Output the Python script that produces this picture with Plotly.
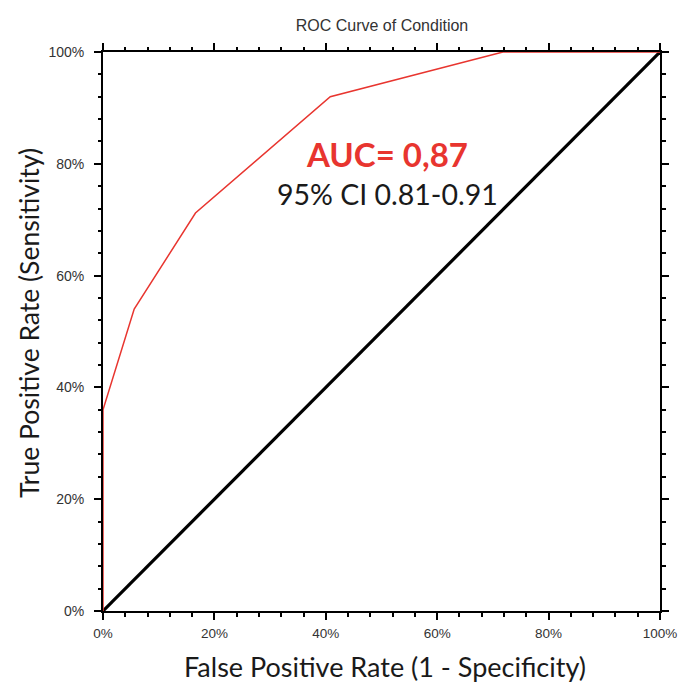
import plotly.graph_objects as go

fpr = [0.0, 0.0, 0.056, 0.166, 0.408, 0.718, 1.0]
tpr = [0.0, 0.36, 0.54, 0.712, 0.92, 1.0, 1.0]
ref_x = [0.0, 1.0]
ref_y = [0.0, 1.0]
tick_vals = [0, 0.2, 0.4, 0.6, 0.8, 1.0]
tick_text = ["0%", "20%", "40%", "60%", "80%", "100%"]

W, H = 678, 684
L, R, T, B = 103, 660, 52, 611  # plot area in page pixels
pw, ph = R - L, B - T

fig = go.Figure()
fig.add_trace(go.Scatter(x=ref_x, y=ref_y, mode="lines",
                         line=dict(color="black", width=3.2), cliponaxis=False,
                         showlegend=False, hoverinfo="skip"))
fig.add_trace(go.Scatter(x=fpr, y=tpr, mode="lines",
                         line=dict(color="#e8352f", width=1.5), cliponaxis=False,
                         showlegend=False))
fig.add_trace(go.Scatter(x=ref_x, y=ref_y, xaxis="x2", yaxis="y2", mode="lines",
                         line=dict(color="rgba(0,0,0,0)", width=0),
                         showlegend=False, hoverinfo="skip"))

base = dict(range=[0, 1], tickvals=tick_vals, showgrid=False, zeroline=False,
            showline=True, linecolor="black", linewidth=2,
            ticks="outside", ticklen=7, tickwidth=1.5, tickcolor="black",
            minor=dict(dtick=0.04, ticks="outside", ticklen=3.5, tickwidth=1.5,
                       tickcolor="black", showgrid=False),
            automargin=False, fixedrange=True)
lab_font = dict(family="Liberation Sans, Arial", size=14, color="#333333")
xlab_font = dict(family="Liberation Sans, Arial", size=13.5, color="#333333")

fig.update_layout(
    xaxis=dict(**base, ticktext=tick_text, tickfont=xlab_font, ticklabelstandoff=2,
               ticklabeloverflow="allow"),
    yaxis=dict(**base, ticktext=tick_text, tickfont=lab_font, ticklabelstandoff=7),
    xaxis2=dict(**base, overlaying="x", side="top", anchor="y2", showticklabels=False),
    yaxis2=dict(**base, overlaying="y", side="right", anchor="x2", showticklabels=False),
)

fig.add_annotation(x=0.51, y=0.817, xref="x", yref="y", text="<b>AUC= 0,87</b>",
                   showarrow=False,
                   font=dict(family="Lato, Open Sans", size=33, color="#e8352f"))
fig.add_annotation(x=0.51, y=0.746, xref="x", yref="y", text="95% CI 0.81-0.91",
                   showarrow=False,
                   font=dict(family="Lato, Open Sans", size=28.5, color="#1a1a1a"))
fig.add_annotation(x=(385 - L) / pw, y=(B - 666) / ph, xref="paper", yref="paper",
                   xanchor="center", yanchor="middle", showarrow=False,
                   text="False Positive Rate (1 - Specificity)",
                   font=dict(family="Lato, Open Sans", size=27, color="#1a1a1a"))
fig.add_annotation(x=(29 - L) / pw, y=(B - 323) / ph, xref="paper", yref="paper",
                   xanchor="center", yanchor="middle", showarrow=False, textangle=-90,
                   text="True Positive Rate (Sensitivity)",
                   font=dict(family="Lato, Open Sans", size=26.5, color="#1a1a1a"))

fig.update_layout(
    width=W, height=H,
    margin=dict(l=L, r=W - R, t=T, b=H - B),
    paper_bgcolor="white", plot_bgcolor="white",
    title=dict(text="ROC Curve of Condition",
               x=382 / W, xanchor="center", xref="container",
               y=1 - 25 / H, yanchor="middle", yref="container",
               font=dict(family="Liberation Sans, Arial", size=16, color="#333333")),
)

fig.write_html("out.html",
               config={"displayModeBar": False},
               post_script="document.body.style.margin='0';"
                           "document.body.style.overflow='hidden';")
